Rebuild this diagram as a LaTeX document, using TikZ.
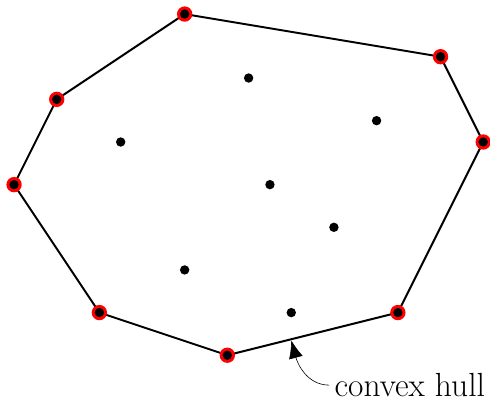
\documentclass[tikz,border=0pt]{standalone}
\usetikzlibrary{arrows.meta}
\begin{document}
\begin{tikzpicture}
	\useasboundingbox (-0.33,-1.09) rectangle (11.16,8.33);
	% hull corners
	\coordinate (h1) at (4,8);
	\coordinate (h2) at (10,7);
	\coordinate (h3) at (11,5);
	\coordinate (h4) at (9,1);
	\coordinate (h5) at (5,0);
	\coordinate (h6) at (2,1);
	\coordinate (h7) at (0,4);
	\coordinate (h8) at (1,6);
	\draw[line width=1.3pt] (h1) -- (h2) -- (h3) -- (h4) -- (h5) -- (h6) -- (h7) -- (h8) -- cycle;
	\foreach \i in {1,...,8} {
		\fill[red] (h\i) circle (0.18);
		\fill (h\i) circle (0.11);
	}
	% inner points
	\foreach \p in {(5.5,6.5), (2.5,5), (8.5,5.5), (6,4), (7.5,3), (4,2), (6.5,1)}
		\fill \p circle (0.11);
	\coordinate (tip) at (6.5,0.35);
	\node[anchor=base, font=\fontsize{22.3}{27}\selectfont] (lbl) at (9.28,-0.97) {convex hull};
	\draw[-{Latex[length=4.2mm,width=3.3mm]}] (lbl.west) to[out=180,in=-75] (tip);
\end{tikzpicture}
\end{document}
